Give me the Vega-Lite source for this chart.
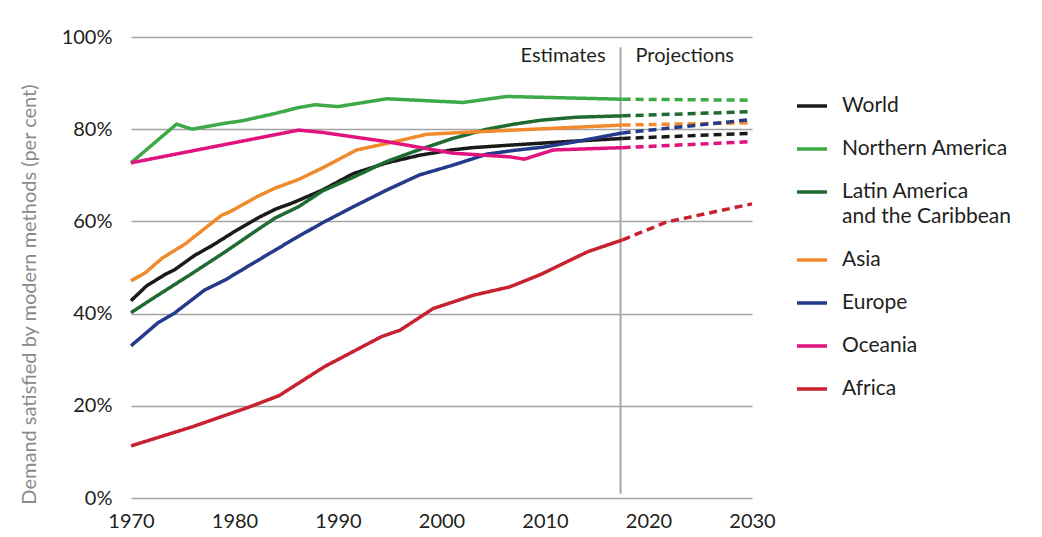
{
  "$schema": "https://vega.github.io/schema/vega-lite/v6.json",
  "width": 621,
  "height": 461,
  "autosize": "none",
  "padding": {"left": 131, "top": 37, "right": 290, "bottom": 39},
  "background": "#ffffff",
  "config": {
    "view": {"stroke": null},
    "font": "Lato",
    "axis": {"labelFont": "Lato", "titleFont": "Lato"},
    "legend": {"labelFont": "Lato"}
  },
  "datasets": {
    "series": [
      {"region": "World", "period": "Estimates", "year": 1970, "value": 42.8},
      {"region": "World", "period": "Estimates", "year": 1971.5, "value": 46.0},
      {"region": "World", "period": "Estimates", "year": 1973.3, "value": 48.5},
      {"region": "World", "period": "Estimates", "year": 1974.2, "value": 49.5},
      {"region": "World", "period": "Estimates", "year": 1976.2, "value": 52.7},
      {"region": "World", "period": "Estimates", "year": 1977.8, "value": 54.7},
      {"region": "World", "period": "Estimates", "year": 1980, "value": 57.8},
      {"region": "World", "period": "Estimates", "year": 1982.3, "value": 60.8},
      {"region": "World", "period": "Estimates", "year": 1984, "value": 62.7},
      {"region": "World", "period": "Estimates", "year": 1985.6, "value": 64.0},
      {"region": "World", "period": "Estimates", "year": 1988.5, "value": 66.8},
      {"region": "World", "period": "Estimates", "year": 1991.5, "value": 70.4},
      {"region": "World", "period": "Estimates", "year": 1992.5, "value": 71.1},
      {"region": "World", "period": "Estimates", "year": 1994.7, "value": 72.7},
      {"region": "World", "period": "Estimates", "year": 1998, "value": 74.4},
      {"region": "World", "period": "Estimates", "year": 2001, "value": 75.5},
      {"region": "World", "period": "Estimates", "year": 2003, "value": 76.0},
      {"region": "World", "period": "Estimates", "year": 2007, "value": 76.6},
      {"region": "World", "period": "Estimates", "year": 2012, "value": 77.3},
      {"region": "World", "period": "Estimates", "year": 2017.5, "value": 78.0},
      {"region": "World", "period": "Projections", "year": 2017.5, "value": 78.0},
      {"region": "World", "period": "Projections", "year": 2030, "value": 79.1},

      {"region": "Northern America", "period": "Estimates", "year": 1970, "value": 72.7},
      {"region": "Northern America", "period": "Estimates", "year": 1974.4, "value": 81.1},
      {"region": "Northern America", "period": "Estimates", "year": 1975.9, "value": 80.0},
      {"region": "Northern America", "period": "Estimates", "year": 1979.1, "value": 81.3},
      {"region": "Northern America", "period": "Estimates", "year": 1980.7, "value": 81.8},
      {"region": "Northern America", "period": "Estimates", "year": 1983.9, "value": 83.4},
      {"region": "Northern America", "period": "Estimates", "year": 1986.2, "value": 84.7},
      {"region": "Northern America", "period": "Estimates", "year": 1987.8, "value": 85.3},
      {"region": "Northern America", "period": "Estimates", "year": 1990, "value": 84.9},
      {"region": "Northern America", "period": "Estimates", "year": 1994.7, "value": 86.6},
      {"region": "Northern America", "period": "Estimates", "year": 2002.1, "value": 85.8},
      {"region": "Northern America", "period": "Estimates", "year": 2006.3, "value": 87.1},
      {"region": "Northern America", "period": "Estimates", "year": 2010, "value": 86.9},
      {"region": "Northern America", "period": "Estimates", "year": 2017.5, "value": 86.5},
      {"region": "Northern America", "period": "Projections", "year": 2017.5, "value": 86.5},
      {"region": "Northern America", "period": "Projections", "year": 2030, "value": 86.3},

      {"region": "Latin America and the Caribbean", "period": "Estimates", "year": 1970, "value": 40.2},
      {"region": "Latin America and the Caribbean", "period": "Estimates", "year": 1972.6, "value": 44.0},
      {"region": "Latin America and the Caribbean", "period": "Estimates", "year": 1975.9, "value": 48.7},
      {"region": "Latin America and the Caribbean", "period": "Estimates", "year": 1979.1, "value": 53.4},
      {"region": "Latin America and the Caribbean", "period": "Estimates", "year": 1982.3, "value": 58.3},
      {"region": "Latin America and the Caribbean", "period": "Estimates", "year": 1983.9, "value": 60.7},
      {"region": "Latin America and the Caribbean", "period": "Estimates", "year": 1986.2, "value": 63.2},
      {"region": "Latin America and the Caribbean", "period": "Estimates", "year": 1988.5, "value": 66.6},
      {"region": "Latin America and the Caribbean", "period": "Estimates", "year": 1991.5, "value": 69.6},
      {"region": "Latin America and the Caribbean", "period": "Estimates", "year": 1994.7, "value": 73.0},
      {"region": "Latin America and the Caribbean", "period": "Estimates", "year": 1997.9, "value": 75.6},
      {"region": "Latin America and the Caribbean", "period": "Estimates", "year": 2001.1, "value": 78.0},
      {"region": "Latin America and the Caribbean", "period": "Estimates", "year": 2004.4, "value": 80.0},
      {"region": "Latin America and the Caribbean", "period": "Estimates", "year": 2007, "value": 81.1},
      {"region": "Latin America and the Caribbean", "period": "Estimates", "year": 2009.8, "value": 82.0},
      {"region": "Latin America and the Caribbean", "period": "Estimates", "year": 2013, "value": 82.6},
      {"region": "Latin America and the Caribbean", "period": "Estimates", "year": 2017.5, "value": 82.9},
      {"region": "Latin America and the Caribbean", "period": "Projections", "year": 2017.5, "value": 82.9},
      {"region": "Latin America and the Caribbean", "period": "Projections", "year": 2030, "value": 83.8},

      {"region": "Asia", "period": "Estimates", "year": 1970, "value": 47.1},
      {"region": "Asia", "period": "Estimates", "year": 1971.4, "value": 48.9},
      {"region": "Asia", "period": "Estimates", "year": 1973, "value": 52.0},
      {"region": "Asia", "period": "Estimates", "year": 1975.3, "value": 55.2},
      {"region": "Asia", "period": "Estimates", "year": 1975.9, "value": 56.3},
      {"region": "Asia", "period": "Estimates", "year": 1978.8, "value": 61.4},
      {"region": "Asia", "period": "Estimates", "year": 1979.4, "value": 61.9},
      {"region": "Asia", "period": "Estimates", "year": 1982.3, "value": 65.5},
      {"region": "Asia", "period": "Estimates", "year": 1983.9, "value": 67.2},
      {"region": "Asia", "period": "Estimates", "year": 1986.2, "value": 69.1},
      {"region": "Asia", "period": "Estimates", "year": 1988.5, "value": 71.6},
      {"region": "Asia", "period": "Estimates", "year": 1991.8, "value": 75.5},
      {"region": "Asia", "period": "Estimates", "year": 1994.7, "value": 76.9},
      {"region": "Asia", "period": "Estimates", "year": 1998.6, "value": 78.9},
      {"region": "Asia", "period": "Estimates", "year": 2002.1, "value": 79.3},
      {"region": "Asia", "period": "Estimates", "year": 2007, "value": 79.8},
      {"region": "Asia", "period": "Estimates", "year": 2017.5, "value": 80.9},
      {"region": "Asia", "period": "Projections", "year": 2017.5, "value": 80.9},
      {"region": "Asia", "period": "Projections", "year": 2030, "value": 81.4},

      {"region": "Europe", "period": "Estimates", "year": 1970, "value": 33.0},
      {"region": "Europe", "period": "Estimates", "year": 1972.6, "value": 38.0},
      {"region": "Europe", "period": "Estimates", "year": 1974.2, "value": 40.1},
      {"region": "Europe", "period": "Estimates", "year": 1977.1, "value": 45.1},
      {"region": "Europe", "period": "Estimates", "year": 1979.1, "value": 47.3},
      {"region": "Europe", "period": "Estimates", "year": 1982.3, "value": 51.6},
      {"region": "Europe", "period": "Estimates", "year": 1985.6, "value": 56.0},
      {"region": "Europe", "period": "Estimates", "year": 1988.5, "value": 59.7},
      {"region": "Europe", "period": "Estimates", "year": 1991.5, "value": 63.2},
      {"region": "Europe", "period": "Estimates", "year": 1994.7, "value": 66.8},
      {"region": "Europe", "period": "Estimates", "year": 1997.9, "value": 70.1},
      {"region": "Europe", "period": "Estimates", "year": 2001.1, "value": 72.2},
      {"region": "Europe", "period": "Estimates", "year": 2004.4, "value": 74.6},
      {"region": "Europe", "period": "Estimates", "year": 2007, "value": 75.4},
      {"region": "Europe", "period": "Estimates", "year": 2009.8, "value": 76.1},
      {"region": "Europe", "period": "Estimates", "year": 2013, "value": 77.3},
      {"region": "Europe", "period": "Estimates", "year": 2017.5, "value": 79.2},
      {"region": "Europe", "period": "Projections", "year": 2017.5, "value": 79.2},
      {"region": "Europe", "period": "Projections", "year": 2030, "value": 82.1},

      {"region": "Oceania", "period": "Estimates", "year": 1970, "value": 72.7},
      {"region": "Oceania", "period": "Estimates", "year": 1986.2, "value": 79.8},
      {"region": "Oceania", "period": "Estimates", "year": 1988.5, "value": 79.3},
      {"region": "Oceania", "period": "Estimates", "year": 1994.7, "value": 77.3},
      {"region": "Oceania", "period": "Estimates", "year": 2001.1, "value": 74.8},
      {"region": "Oceania", "period": "Estimates", "year": 2006.6, "value": 74.0},
      {"region": "Oceania", "period": "Estimates", "year": 2008, "value": 73.5},
      {"region": "Oceania", "period": "Estimates", "year": 2010.8, "value": 75.5},
      {"region": "Oceania", "period": "Estimates", "year": 2017.5, "value": 76.0},
      {"region": "Oceania", "period": "Projections", "year": 2017.5, "value": 76.0},
      {"region": "Oceania", "period": "Projections", "year": 2030, "value": 77.3},

      {"region": "Africa", "period": "Estimates", "year": 1970, "value": 11.3},
      {"region": "Africa", "period": "Estimates", "year": 1976, "value": 15.5},
      {"region": "Africa", "period": "Estimates", "year": 1981.5, "value": 19.8},
      {"region": "Africa", "period": "Estimates", "year": 1984.3, "value": 22.2},
      {"region": "Africa", "period": "Estimates", "year": 1988.7, "value": 28.5},
      {"region": "Africa", "period": "Estimates", "year": 1994.2, "value": 35.0},
      {"region": "Africa", "period": "Estimates", "year": 1996, "value": 36.4},
      {"region": "Africa", "period": "Estimates", "year": 1999.2, "value": 41.1},
      {"region": "Africa", "period": "Estimates", "year": 2003.1, "value": 44.0},
      {"region": "Africa", "period": "Estimates", "year": 2006.6, "value": 45.8},
      {"region": "Africa", "period": "Estimates", "year": 2009.5, "value": 48.4},
      {"region": "Africa", "period": "Estimates", "year": 2014.1, "value": 53.4},
      {"region": "Africa", "period": "Estimates", "year": 2017.5, "value": 56.0},
      {"region": "Africa", "period": "Projections", "year": 2017.5, "value": 56.0},
      {"region": "Africa", "period": "Projections", "year": 2021.8, "value": 59.9},
      {"region": "Africa", "period": "Projections", "year": 2030, "value": 63.8}
    ]
  },
  "layer": [
    {
      "data": {"values": [{"year": 2017.3, "top": 97.8, "bottom": 0.9}]},
      "mark": {"type": "rule", "color": "#a6a6a6", "strokeWidth": 2},
      "encoding": {
        "x": {"field": "year", "type": "quantitative"},
        "y": {"field": "top", "type": "quantitative"},
        "y2": {"field": "bottom"}
      }
    },
    {
      "data": {"name": "series"},
      "mark": {"type": "line", "strokeWidth": 3.5, "strokeCap": "butt", "strokeJoin": "round"},
      "encoding": {
        "x": {
          "field": "year", "type": "quantitative",
          "scale": {"domain": [1970, 2030], "nice": false, "zero": false},
          "axis": {
            "values": [1970, 1980, 1990, 2000, 2010, 2020, 2030],
            "format": "d", "title": null, "domain": false, "ticks": false, "tickSize": 0,
            "grid": false, "labelFontSize": 20, "labelColor": "#231f20", "labelPadding": 13,
            "labelFlush": false
          }
        },
        "y": {
          "field": "value", "type": "quantitative",
          "scale": {"domain": [0, 100], "nice": false},
          "axis": {
            "values": [0, 20, 40, 60, 80, 100],
            "labelExpr": "datum.value + '%'",
            "title": "Demand satisfied by modern methods (per cent)",
            "titleFontSize": 20, "titleFontWeight": "normal", "titleColor": "#8a8a8a",
            "titleAngle": 270, "titleBaseline": "alphabetic", "titleAlign": "center",
            "titleX": -96, "titleY": 257,
            "domain": false, "ticks": false, "tickSize": 0,
            "grid": true, "gridColor": "#a3a3a3", "gridWidth": 1.5,
            "labelFontSize": 20, "labelColor": "#231f20", "labelPadding": 19
          }
        },
        "color": {
          "field": "region", "type": "nominal",
          "scale": {
            "domain": ["World", "Northern America", "Latin America and the Caribbean", "Asia", "Europe", "Oceania", "Africa"],
            "range": ["#1a1a1a", "#3da947", "#1f6b31", "#f08a2c", "#243a8b", "#e1137f", "#c6222f"]
          },
          "legend": {
            "title": null, "orient": "none", "legendX": 664, "legendY": 52,
            "symbolType": "stroke", "symbolSize": 900, "symbolStrokeWidth": 3.5,
            "labelFontSize": 21, "labelColor": "#231f20", "labelOffset": 13,
            "rowPadding": 16, "labelLimit": 300,
            "labelExpr": "datum.label == 'Latin America and the Caribbean' ? ['Latin America', 'and the Caribbean'] : datum.label",
            "encode": {"labels": {"update": {"lineHeight": {"value": 25}}}}
          }
        },
        "strokeDash": {
          "field": "period", "type": "nominal",
          "scale": {"domain": ["Estimates", "Projections"], "range": [[1, 0], [8, 5]]},
          "legend": null
        },
        "detail": {"field": "period"}
      }
    },
    {
      "data": {"values": [{"label": "Estimates", "year": 2017.3, "value": 95.9}]},
      "mark": {"type": "text", "align": "right", "baseline": "middle", "dx": -15, "fontSize": 20, "color": "#231f20"},
      "encoding": {
        "x": {"field": "year", "type": "quantitative"},
        "y": {"field": "value", "type": "quantitative"},
        "text": {"field": "label"}
      }
    },
    {
      "data": {"values": [{"label": "Projections", "year": 2017.3, "value": 95.9}]},
      "mark": {"type": "text", "align": "left", "baseline": "middle", "dx": 15, "fontSize": 20, "color": "#231f20"},
      "encoding": {
        "x": {"field": "year", "type": "quantitative"},
        "y": {"field": "value", "type": "quantitative"},
        "text": {"field": "label"}
      }
    }
  ]
}
